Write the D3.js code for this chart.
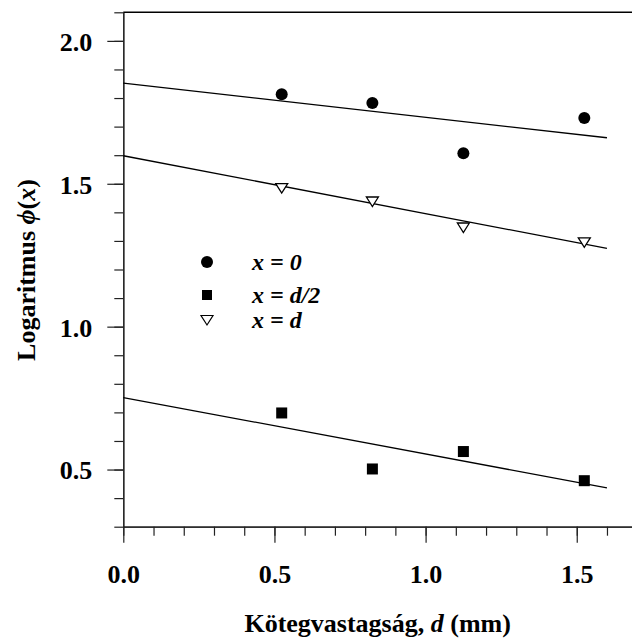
<!DOCTYPE html>
<html>
<head>
<meta charset="utf-8">
<script src="https://cdn.jsdelivr.net/npm/d3@7"></script>
<style>
  body { margin: 0; background: #fff; }
</style>
</head>
<body>
<div id="chart"></div>
<script>
// Data
var thickness = [0.524, 0.824, 1.125, 1.525]
var atZero = [1.813, 1.783, 1.607, 1.730]
var atHalf = [0.698, 0.502, 0.563, 0.461]
var atFull = [1.485, 1.438, 1.347, 1.295]

// fitted lines, value at d = 0 and d = 1.6
var fitX = [0, 1.6]
var fitZero = [1.852, 1.661]
var fitHalf = [0.752, 0.436]
var fitFull = [1.598, 1.274]

var xTicks = [0.0, 0.5, 1.0, 1.5]
var yTicks = [0.5, 1.0, 1.5, 2.0]
var legendLabels = ["x = 0", "x = d/2", "x = d"]

var width = 632
var height = 642
var serif = "'Liberation Serif', 'DejaVu Serif', 'Times New Roman', Times, serif"

var svg = d3.select("#chart")
  .append("svg")
  .attr("width", width)
  .attr("height", height)
  .style("font-family", serif)
  .style("font-weight", "bold")

var xScale = d3.scaleLinear()
  .domain([0, 1.7])
  .range([123.3, 637.2])

var yScale = d3.scaleLinear()
  .domain([0.3, 2.1])
  .range([526.7, 12.3])

var minorX = d3.range(0, 17).map(d => d / 10)
var minorY = d3.range(3, 22).map(d => d / 10)

// Minor ticks
svg.append("g")
  .attr("transform", `translate(0,${yScale(0.3)})`)
  .attr("class", "x-minor")
  .call(d3.axisBottom(xScale).tickValues(minorX).tickSize(9).tickSizeOuter(0).tickFormat(""))

svg.append("g")
  .attr("transform", `translate(${xScale(0)},0)`)
  .attr("class", "y-minor")
  .call(d3.axisLeft(yScale).tickValues(minorY).tickSize(9).tickSizeOuter(0).tickFormat(""))

// Major ticks + labels
svg.append("g")
  .attr("transform", `translate(0,${yScale(0.3)})`)
  .attr("class", "x-axis")
  .call(d3.axisBottom(xScale).tickValues(xTicks).tickSize(16).tickSizeOuter(0).tickFormat(d3.format(".1f")))
  .selectAll("text")
  .attr("y", 38)
  .style("font-size", "26px")

svg.append("g")
  .attr("transform", `translate(${xScale(0)},0)`)
  .attr("class", "y-axis")
  .call(d3.axisLeft(yScale).tickValues(yTicks).tickSize(16).tickSizeOuter(0).tickFormat(d3.format(".1f")))
  .selectAll("text")
  .attr("x", -31)
  .attr("dy", "0.36em")
  .style("font-size", "26px")

svg.selectAll("g").attr("font-family", null).attr("font-size", null)
svg.selectAll(".domain, .tick line")
  .attr("stroke", "#222")
  .attr("stroke-width", 1.2)
svg.selectAll(".tick text").attr("fill", "#000")

// top line
svg.append("line")
  .attr("x1", xScale(0))
  .attr("x2", width)
  .attr("y1", yScale(2.1))
  .attr("y2", yScale(2.1))
  .attr("stroke", "#000")
  .attr("stroke-width", 1.6)

// Fit lines
var line = d3.line()
  .x(d => xScale(d[0]))
  .y(d => yScale(d[1]))

;[fitZero, fitHalf, fitFull].forEach(function(fit) {
  svg.append("path")
    .datum(fitX.map((x, i) => [x, fit[i]]))
    .attr("d", line)
    .attr("fill", "none")
    .attr("stroke", "#000")
    .attr("stroke-width", 1.3)
})

var triangle = "M-6,-4.5L6,-4.5L0,5Z"

// Points
svg.selectAll("circle.pt")
  .data(thickness.map((x, i) => [x, atZero[i]]))
  .enter()
  .append("circle")
  .attr("class", "pt")
  .attr("cx", d => xScale(d[0]))
  .attr("cy", d => yScale(d[1]))
  .attr("r", 6)
  .style("fill", "#000")

svg.selectAll("rect.pt")
  .data(thickness.map((x, i) => [x, atHalf[i]]))
  .enter()
  .append("rect")
  .attr("class", "pt")
  .attr("x", d => xScale(d[0]) - 5.5)
  .attr("y", d => yScale(d[1]) - 5.5)
  .attr("width", 11)
  .attr("height", 11)
  .style("fill", "#000")

svg.selectAll("path.tri")
  .data(thickness.map((x, i) => [x, atFull[i]]))
  .enter()
  .append("path")
  .attr("class", "tri")
  .attr("d", triangle)
  .attr("transform", d => `translate(${xScale(d[0])},${yScale(d[1])})`)
  .style("fill", "#fff")
  .style("stroke", "#000")
  .style("stroke-width", 1.3)

// Legend
var legendY = [262, 295, 320]
svg.append("circle").attr("cx", 207).attr("cy", legendY[0]).attr("r", 6).style("fill", "#000")
svg.append("rect").attr("x", 202).attr("y", legendY[1] - 5).attr("width", 10).attr("height", 10).style("fill", "#000")
svg.append("path").attr("d", triangle).attr("transform", `translate(207,${legendY[2]})`)
  .style("fill", "#fff").style("stroke", "#000").style("stroke-width", 1.2)

svg.selectAll(".legend-text")
  .data(legendLabels)
  .enter()
  .append("text")
  .attr("class", "legend-text")
  .attr("x", 252)
  .attr("y", (d, i) => legendY[i] + 8)
  .style("font-size", "24px")
  .style("font-style", "italic")
  .text(d => d)

// Axis titles
var xTitle = svg.append("text")
  .attr("x", (xScale(0) + width) / 2)
  .attr("y", 632)
  .attr("text-anchor", "middle")
  .style("font-size", "26px")
xTitle.append("tspan").text("Kötegvastagság, ")
xTitle.append("tspan").style("font-style", "italic").text("d")
xTitle.append("tspan").text(" (mm)")

var yTitle = svg.append("text")
  .attr("transform", "translate(35,270) rotate(-90)")
  .attr("text-anchor", "middle")
  .style("font-size", "26px")
yTitle.append("tspan").text("Logaritmus ")
yTitle.append("tspan").style("font-style", "italic").text("ϕ")
yTitle.append("tspan").text("(")
yTitle.append("tspan").style("font-style", "italic").text("x")
yTitle.append("tspan").text(")")
</script>
</body>
</html>
